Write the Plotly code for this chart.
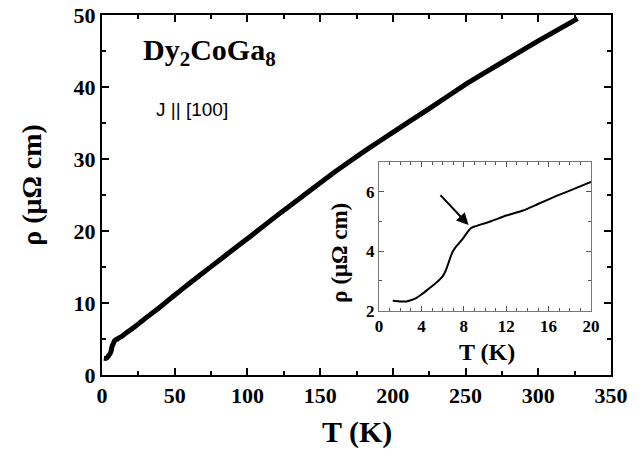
import plotly.graph_objects as go

# Low-temperature data (inset region)
T_low = [1.3, 2.0, 2.6, 3.0, 3.5, 4.0, 4.5, 5.0, 5.5, 6.0, 6.3, 6.6, 6.9, 7.2, 7.8, 8.3, 8.7, 9.0, 10.5, 12.0, 13.6, 15.0, 16.8, 18.0, 20.0]
rho_low = [2.33, 2.31, 2.31, 2.35, 2.42, 2.54, 2.68, 2.82, 2.97, 3.15, 3.35, 3.65, 3.95, 4.12, 4.37, 4.62, 4.78, 4.83, 5.00, 5.20, 5.37, 5.59, 5.87, 6.04, 6.33]

# High-temperature data (main panel)
T_high = [25, 30, 40, 49, 60, 75, 90, 102, 120, 139, 160, 182, 200, 225, 251, 275, 300, 327]
rho_high = [7.1, 7.9, 9.45, 10.93, 12.7, 15.05, 17.4, 19.25, 22.1, 25.0, 28.2, 31.3, 33.7, 37.0, 40.5, 43.4, 46.4, 49.5]

T_all = T_low + T_high
rho_all = rho_low + rho_high

main_xticks = [0, 50, 100, 150, 200, 250, 300, 350]
main_yticks = [0, 10, 20, 30, 40, 50]
inset_xticks = [0, 4, 8, 12, 16, 20]
inset_yticks = [2, 4, 6]

SERIF = "Times New Roman, Liberation Serif, DejaVu Serif, serif"
SANS = "Arial, Liberation Sans, sans-serif"

fig = go.Figure()
fig.add_trace(go.Scatter(x=T_all, y=rho_all, mode="lines",
                         line=dict(color="black", width=5, shape="spline", smoothing=0.3),
                         xaxis="x", yaxis="y", showlegend=False))
fig.add_trace(go.Scatter(x=T_low, y=rho_low, mode="lines",
                         line=dict(color="black", width=2, shape="spline", smoothing=0.3),
                         xaxis="x2", yaxis="y2", showlegend=False))

# browser body margin offset
OFF = 8
W, H = 644 - OFF, 457 - OFF
# target plot box in page pixels: left 102, right 611, top 15, bottom 375.5
L, T = 102 - OFF, 15 - OFF
R = (OFF + W) - 611
B = (OFF + H) - 375.5
pw, ph = W - L - R, H - T - B

def px2paper_x(px):
    return (px - 102) / pw

def px2paper_y(py):
    return (375.5 - py) / ph

tickfont_main = dict(family=SERIF, size=22, color="black", weight="bold")
tickfont_inset = dict(family=SERIF, size=17, color="black", weight="bold")

fig.update_layout(
    width=W, height=H,
    margin=dict(l=L, r=R, t=T, b=B),
    paper_bgcolor="white", plot_bgcolor="white",
    xaxis=dict(range=[0, 350], tickvals=main_xticks, ticks="inside", ticklen=7, tickwidth=2,
               tickcolor="black", showline=True, linecolor="black", linewidth=2, mirror="allticks",
               showgrid=False, zeroline=False, tickfont=tickfont_main, automargin=False,
               ticklabeloverflow="allow",
               minor=dict(dtick=25, ticks="inside", ticklen=4, tickwidth=2, tickcolor="black")),
    yaxis=dict(range=[0, 50], tickvals=main_yticks, ticks="inside", ticklen=7, tickwidth=2,
               tickcolor="black", showline=True, linecolor="black", linewidth=2, mirror="allticks",
               showgrid=False, zeroline=False, tickfont=tickfont_main, automargin=False,
               ticklabeloverflow="allow",
               minor=dict(dtick=5, ticks="inside", ticklen=4, tickwidth=2, tickcolor="black")),
    xaxis2=dict(domain=[px2paper_x(379), px2paper_x(591)], anchor="y2", range=[0, 20],
                tickvals=inset_xticks, ticks="inside", ticklen=5, tickwidth=1, tickcolor="#555",
                showline=True, linecolor="#777", linewidth=1, mirror="allticks",
                showgrid=False, zeroline=False, tickfont=tickfont_inset, automargin=False,
                ticklabeloverflow="allow",
                minor=dict(dtick=1, ticks="inside", ticklen=3, tickwidth=1, tickcolor="#555")),
    yaxis2=dict(domain=[px2paper_y(311), px2paper_y(162.3)], anchor="x2", range=[2, 7],
                tickvals=inset_yticks, ticks="inside", ticklen=5, tickwidth=1, tickcolor="#555",
                showline=True, linecolor="#777", linewidth=1, mirror="allticks",
                showgrid=False, zeroline=False, tickfont=tickfont_inset, automargin=False,
                ticklabeloverflow="allow",
                minor=dict(dtick=1, ticks="inside", ticklen=3, tickwidth=1, tickcolor="#555")),
    annotations=[
        dict(text="T (K)", xref="paper", yref="paper", x=0.5, y=px2paper_y(433),
             xanchor="center", yanchor="middle", showarrow=False,
             font=dict(family=SERIF, size=30, color="black", weight="bold")),
        dict(text="ρ (μΩ cm)", xref="paper", yref="paper", x=px2paper_x(32), y=px2paper_y(185),
             xanchor="center", yanchor="middle", showarrow=False, textangle=-90,
             font=dict(family=SERIF, size=28, color="black", weight="bold")),
        dict(text="T (K)", xref="paper", yref="paper", x=px2paper_x(487), y=px2paper_y(352),
             xanchor="center", yanchor="middle", showarrow=False,
             font=dict(family=SERIF, size=24, color="black", weight="bold")),
        dict(text="ρ (μΩ cm)", xref="paper", yref="paper", x=px2paper_x(340), y=px2paper_y(253),
             xanchor="center", yanchor="middle", showarrow=False, textangle=-90,
             font=dict(family=SERIF, size=23, color="black", weight="bold")),
        dict(text="Dy<sub>2</sub>CoGa<sub>8</sub>", xref="paper", yref="paper",
             x=px2paper_x(141), y=px2paper_y(52), xanchor="left", yanchor="middle",
             showarrow=False, font=dict(family=SERIF, size=30, color="black", weight="bold")),
        dict(text="J || [100]", xref="paper", yref="paper",
             x=px2paper_x(154), y=px2paper_y(110), xanchor="left", yanchor="middle",
             showarrow=False, font=dict(family=SANS, size=19, color="black")),
        dict(x=8.45, y=4.88, ax=5.66, ay=5.94, xref="x2", yref="y2", axref="x2", ayref="y2",
             text="", showarrow=True, arrowhead=2, arrowsize=1.2, arrowwidth=2, arrowcolor="black"),
    ],
)

fig.write_html("out.html")
